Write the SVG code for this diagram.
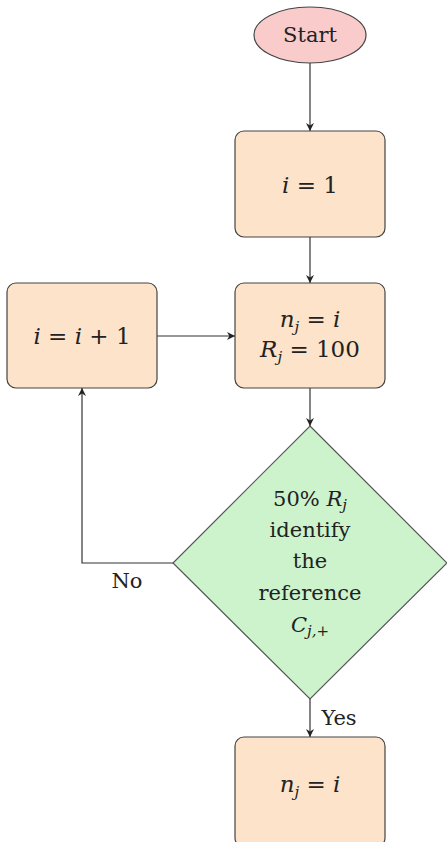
<svg xmlns="http://www.w3.org/2000/svg" width="447" height="842" viewBox="0 0 447 842">
<defs>
<marker id="ah" viewBox="0 0 10 10" refX="10" refY="5" markerWidth="8" markerHeight="8" markerUnits="userSpaceOnUse" orient="auto">
<path d="M0,0 L10,5 L0,10 L3,5 Z" fill="#222"/>
</marker>
<style>
.box{fill:#fde3c9;stroke:#444;stroke-width:1.2}
.t{font-family:"DejaVu Serif","Liberation Serif",serif;font-size:21px;fill:#222;text-anchor:middle}
.q{font-size:23px}
.m{font-style:italic}
.s{font-style:italic;font-size:15px}
.c{fill:none;stroke:#333;stroke-width:1.2;marker-end:url(#ah)}
</style>
</defs>
<rect width="447" height="842" fill="#fff"/>
<g id="connectors">
<line class="c" x1="310" y1="63" x2="310" y2="131"/>
<line class="c" x1="310" y1="237" x2="310" y2="283"/>
<line class="c" x1="157" y1="336" x2="235" y2="336"/>
<line class="c" x1="310" y1="388" x2="310" y2="426"/>
<polyline class="c" points="173,563 82,563 82,388"/>
<line class="c" x1="310" y1="699" x2="310" y2="737"/>
<text class="t" x="127" y="588">No</text>
<text class="t" x="339" y="725">Yes</text>
</g>
<g id="start">
<ellipse cx="310" cy="35" rx="56" ry="28" fill="#f9cbcb" stroke="#444" stroke-width="1.2"/>
<text class="t" x="310" y="42">Start</text>
</g>
<g id="init">
<rect class="box" x="235" y="131" width="150" height="106" rx="9"/>
<text class="t q" x="310" y="193"><tspan class="m">i</tspan>&#160;=&#160;1</text>
</g>
<g id="assign">
<rect class="box" x="235" y="283" width="150" height="105" rx="9"/>
<text class="t q" x="310" y="327"><tspan class="m">n</tspan><tspan class="s" dy="5">j</tspan><tspan dy="-5">&#160;=&#160;</tspan><tspan class="m">i</tspan></text>
<text class="t q" x="310" y="357"><tspan class="m">R</tspan><tspan class="s" dy="5">j</tspan><tspan dy="-5">&#160;=&#160;100</tspan></text>
</g>
<g id="increment">
<rect class="box" x="7" y="283" width="150" height="105" rx="9"/>
<text class="t q" x="82" y="344"><tspan class="m">i</tspan>&#160;=&#160;<tspan class="m">i</tspan>&#160;+&#160;1</text>
</g>
<g id="decision">
<polygon points="310,426 447,563 310,699 173,563" fill="#ccf3cc" stroke="#555" stroke-width="1.2"/>
<text class="t" x="310" y="506">50% <tspan class="m">R</tspan><tspan class="s" dy="4">j</tspan></text>
<text class="t" x="310" y="537">identify</text>
<text class="t" x="310" y="568">the</text>
<text class="t" x="310" y="600">reference</text>
<text class="t" x="310" y="632"><tspan class="m">C</tspan><tspan class="s" dy="4">j,+</tspan></text>
</g>
<g id="result">
<rect class="box" x="235" y="737" width="150" height="110" rx="9"/>
<text class="t q" x="310" y="792"><tspan class="m">n</tspan><tspan class="s" dy="5">j</tspan><tspan dy="-5">&#160;=&#160;</tspan><tspan class="m">i</tspan></text>
</g>
</svg>
